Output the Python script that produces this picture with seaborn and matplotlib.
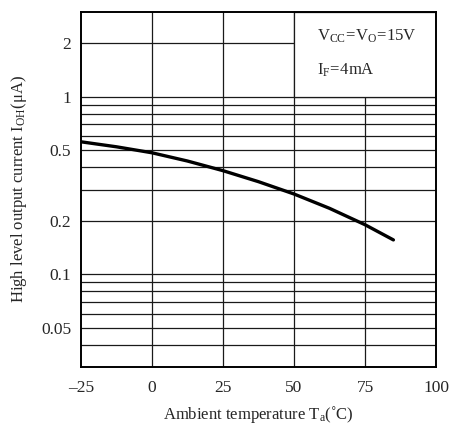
import matplotlib
matplotlib.use("Agg")
import matplotlib.pyplot as plt
from matplotlib.patches import Rectangle
import seaborn as sns
import pandas as pd

# Data
temperature = [-25, -12.5, 0, 12.5, 25, 37.5, 50, 62.5, 75, 85]
current_uA = [0.557, 0.522, 0.483, 0.434, 0.383, 0.332, 0.283, 0.235, 0.190, 0.156]

x_ticks = [-25, 0, 25, 50, 75, 100]
x_ticklabels = ["\u201325", "0", "25", "50", "75", "100"]
y_ticks = [0.05, 0.1, 0.2, 0.5, 1, 2]
y_ticklabels = ["0.05", "0.1", "0.2", "0.5", "1", "2"]
y_grid = [0.04, 0.05, 0.06, 0.07, 0.08, 0.09, 0.1, 0.2, 0.3, 0.4, 0.5,
          0.6, 0.7, 0.8, 0.9, 1, 2]
x_grid = [0, 25, 50, 75]

sns.set_style("white")
plt.rcParams["font.family"] = ["Liberation Serif", "DejaVu Serif"]
plt.rcParams["mathtext.fontset"] = "stix"

df = pd.DataFrame({"T": temperature, "I": current_uA})

fig = plt.figure(figsize=(4.51, 4.25), dpi=100)
ax = fig.add_axes([81 / 451, 1 - 367 / 425, 355 / 451, 355 / 425])

ax.set_yscale("log")
ax.set_xlim(-25, 100)
ax.set_ylim(0.03, 3)

for v in y_grid:
    ax.axhline(v, color="#1a1a1a", lw=0.9, zorder=1)
for v in x_grid:
    ax.axvline(v, color="#1a1a1a", lw=0.9, zorder=1)

# Condition box in upper right (covers grid)
ax.add_patch(Rectangle((50, 1), 50, 2, facecolor="white", edgecolor="#1a1a1a",
                       lw=0.9, zorder=2))
ax.text(58.0, 2.2, r"$\mathregular{V_{CC}\!=\!V_{O}\!=\!15V}$", fontsize=12,
        va="center", ha="left", zorder=3)
ax.text(58.0, 1.4, r"$\mathregular{I_{F}\!=\!4mA}$", fontsize=12,
        va="center", ha="left", zorder=3)

sns.lineplot(data=df, x="T", y="I", color="black", lw=2.4, ax=ax, zorder=4)

ax.set_xticks(x_ticks)
ax.set_xticklabels(x_ticklabels, fontsize=12.5)
ax.set_yticks(y_ticks)
ax.set_yticklabels(y_ticklabels, fontsize=12.5)
ax.minorticks_off()
ax.tick_params(axis="both", length=0)
ax.tick_params(axis="x", pad=9)
ax.tick_params(axis="y", pad=7)

ax.set_xlabel("Ambient temperature $\\mathregular{T_a}$(\u02daC)", fontsize=12, labelpad=6)
ax.set_ylabel("High level output current $\\mathregular{I_{OH}}$(\u03bcA)", fontsize=12, labelpad=9)

for s in ax.spines.values():
    s.set_color("black")
    s.set_linewidth(1.4)
    s.set_zorder(5)

fig.savefig("out.png", dpi=100)
